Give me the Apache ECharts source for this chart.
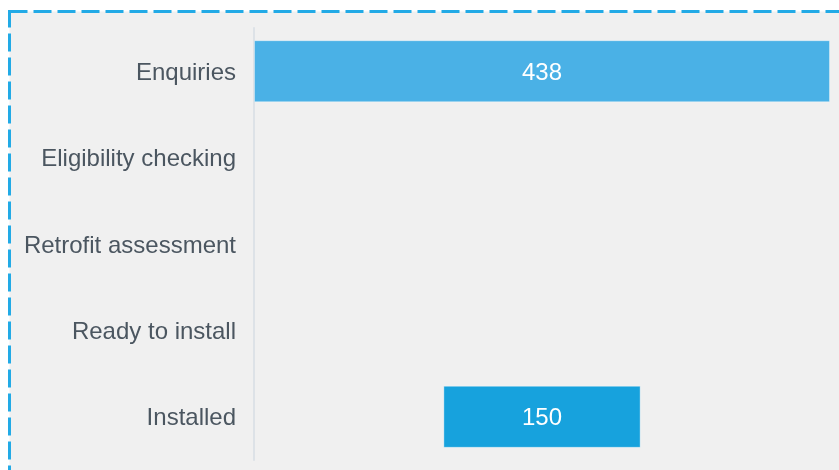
<!DOCTYPE html>
<html>
<head>
<meta charset="utf-8">
<script src="https://cdn.jsdelivr.net/npm/echarts@6/dist/echarts.min.js"></script>
<style>
  html, body { margin: 0; padding: 0; background: #fff; }
  #chart { width: 839px; height: 470px; }
</style>
</head>
<body>
<div id="chart"></div>
<script>
// funnel stages, top to bottom
const stages = ['Enquiries', 'Eligibility checking', 'Retrofit assessment', 'Ready to install', 'Installed'];
const counts = [438, 0, 0, 0, 150];
const stageColors = ['#4ab1e6', '#3eade4', '#2fa8e2', '#22a5df', '#17a2dd'];

const maxCount = Math.max(...counts);
// invisible spacer so each bar sits centred
const spacer = counts.map(v => (maxCount - v) / 2);

const chart = echarts.init(document.getElementById('chart'));

const option = {
  animation: false,
  textStyle: { fontFamily: 'Liberation Sans, Arial, sans-serif' },
  graphic: [
    {
      type: 'rect',
      z: -10,
      silent: true,
      shape: { x: 9.5, y: 11.5, width: 900, height: 500 },
      style: {
        fill: '#f0f0f0',
        stroke: '#22aae6',
        lineWidth: 3,
        lineDash: [18, 6]
      }
    }
  ],
  grid: {
    left: 254,
    right: 9,
    top: 28,
    bottom: 10
  },
  xAxis: {
    type: 'value',
    min: 0,
    max: maxCount,
    show: false
  },
  yAxis: {
    type: 'category',
    data: stages,
    inverse: true,
    axisTick: { show: false },
    axisLine: { lineStyle: { color: '#dde2e7', width: 2 } },
    axisLabel: {
      color: '#4b5660',
      fontSize: 24,
      margin: 18,
      formatter: '{t|{value}}',
      rich: {
        t: { color: '#4b5660', fontSize: 24, padding: [4, 0, 0, 0] }
      }
    }
  },
  series: [
    {
      name: 'spacer',
      type: 'bar',
      stack: 'funnel',
      silent: true,
      barWidth: 62,
      itemStyle: { color: 'transparent' },
      data: spacer
    },
    {
      name: 'count',
      type: 'bar',
      stack: 'funnel',
      barWidth: 62,
      label: {
        show: true,
        position: 'inside',
        color: '#fff',
        fontSize: 24,
        offset: [0, 2],
        formatter: p => (p.value > 0 ? p.value : '')
      },
      data: counts.map((v, i) => ({
        value: v,
        itemStyle: {
          color: stageColors[i],
          borderColor: 'rgba(255,255,255,0.35)',
          borderWidth: v > 0 ? 1 : 0
        }
      }))
    }
  ]
};

chart.setOption(option);
window.addEventListener('resize', () => chart.resize());
</script>
</body>
</html>
